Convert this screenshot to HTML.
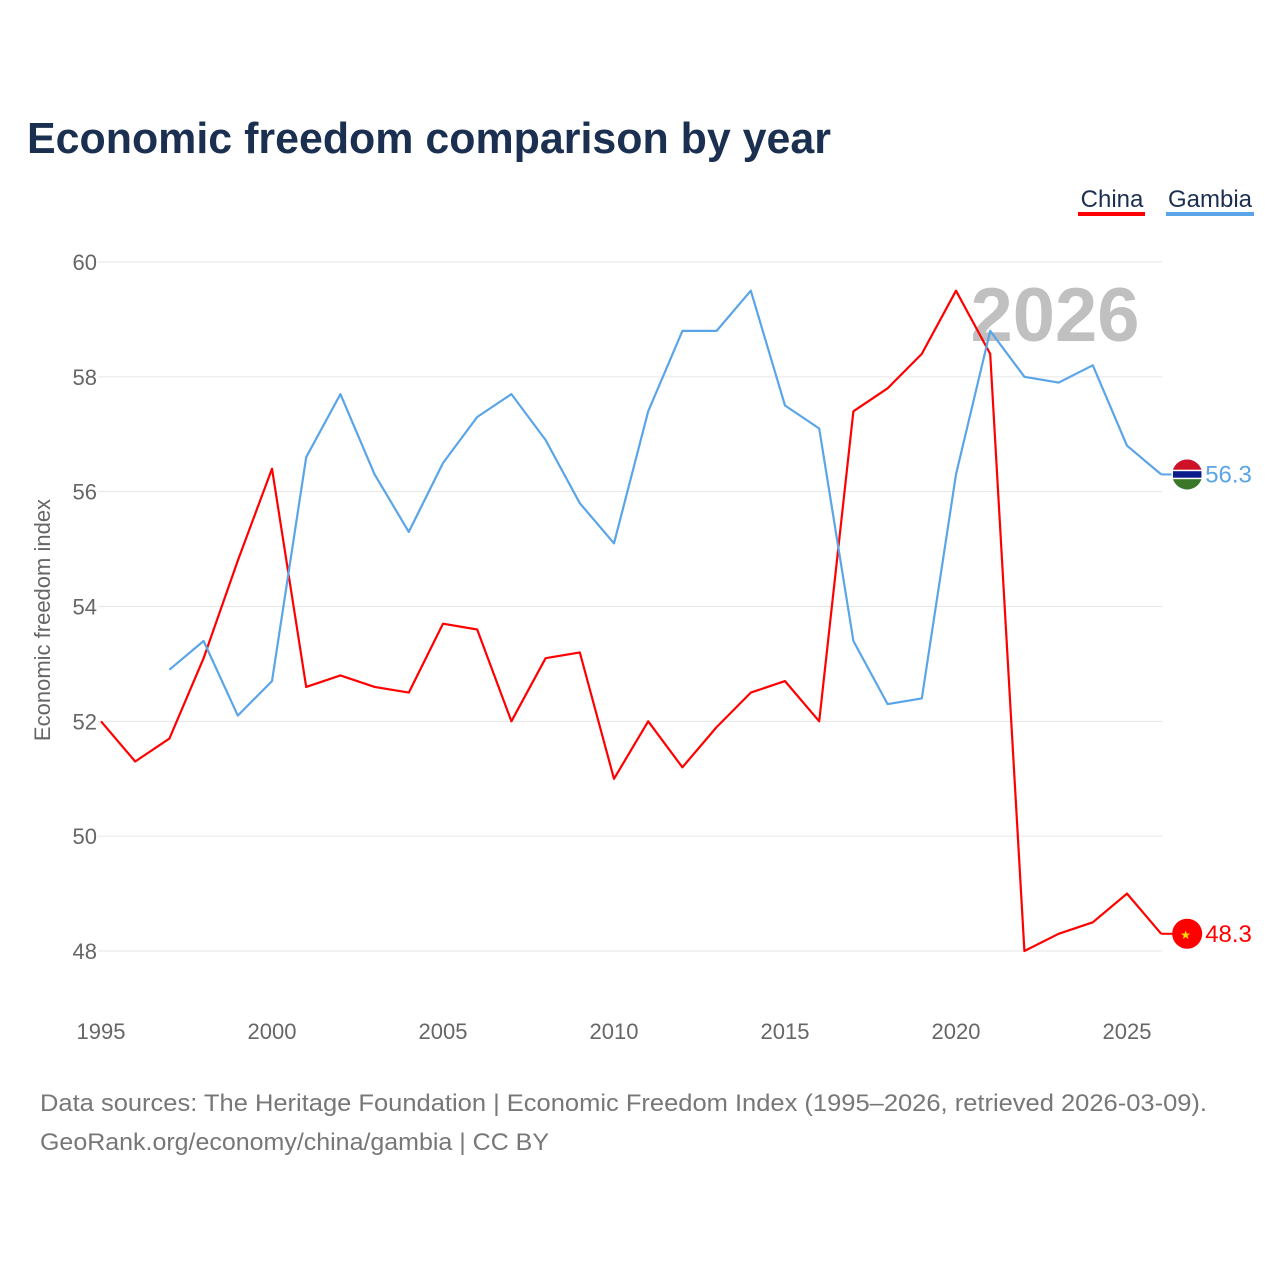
<!DOCTYPE html>
<html><head><meta charset="utf-8"><style>
body{margin:0;background:#fff;font-family:"Liberation Sans",sans-serif;}
</style></head><body>
<svg width="1280" height="1280" xmlns="http://www.w3.org/2000/svg" font-family="Liberation Sans, sans-serif">
<rect width="1280" height="1280" fill="#fff"/>
<text x="27" y="153" font-size="44" font-weight="bold" fill="#1b3050" textLength="804" lengthAdjust="spacingAndGlyphs">Economic freedom comparison by year</text>
<g>
<text x="1112" y="207" font-size="24" fill="#1b3050" text-anchor="middle">China</text>
<rect x="1078" y="212" width="67" height="4" fill="#ff0000"/>
<text x="1210" y="207" font-size="24" fill="#1b3050" text-anchor="middle">Gambia</text>
<rect x="1166" y="212" width="88" height="4" fill="#5aa5e8"/>
</g>
<g id="grid"></g>
<g id="yt"></g>
<g id="xt"></g>
<text x="1055" y="341" font-size="76" font-weight="bold" fill="#c0c0c0" text-anchor="middle">2026</text>
<text transform="translate(50,620) rotate(-90)" font-size="22" fill="#666" text-anchor="middle">Economic freedom index</text>
<g id="series"></g>
<text x="40" y="1111" font-size="24" fill="#777" textLength="1167" lengthAdjust="spacingAndGlyphs">Data sources: The Heritage Foundation | Economic Freedom Index (1995–2026, retrieved 2026-03-09).</text>
<text x="40" y="1150" font-size="24" fill="#777" textLength="509" lengthAdjust="spacingAndGlyphs">GeoRank.org/economy/china/gambia | CC BY</text>
</svg>
<script>
const years=[1995,1996,1997,1998,1999,2000,2001,2002,2003,2004,2005,2006,2007,2008,2009,2010,2011,2012,2013,2014,2015,2016,2017,2018,2019,2020,2021,2022,2023,2024,2025,2026];
const china=[52.0,51.3,51.7,53.1,54.8,56.4,52.6,52.8,52.6,52.5,53.7,53.6,52.0,53.1,53.2,51.0,52.0,51.2,51.9,52.5,52.7,52.0,57.4,57.8,58.4,59.5,58.4,48.0,48.3,48.5,49.0,48.3];
const gambia=[null,null,52.9,53.4,52.1,52.7,56.6,57.7,56.3,55.3,56.5,57.3,57.7,56.9,55.8,55.1,57.4,58.8,58.8,59.5,57.5,57.1,53.4,52.3,52.4,56.3,58.8,58.0,57.9,58.2,56.8,56.3];
const yTicks=[48,50,52,54,56,58,60];
const xTicks=[1995,2000,2005,2010,2015,2020,2025];
const NS="http://www.w3.org/2000/svg";
const x=v=>101+(v-1995)*(1127-101)/30;
const y=v=>951-(v-48)*(951-262)/12;
function mk(t,a,p){const e=document.createElementNS(NS,t);for(const k in a)e.setAttribute(k,a[k]);p.appendChild(e);return e;}
const grid=document.getElementById('grid'),yt=document.getElementById('yt'),xt=document.getElementById('xt'),ser=document.getElementById('series');
yTicks.forEach(v=>{
 const l=mk('line',{x1:98,x2:1162,y1:y(v),y2:y(v),stroke:'#e6e6e6','stroke-width':1},grid);
 
 
 const t=mk('text',{x:97,y:y(v)+8,'font-size':22,fill:'#666','text-anchor':'end'},yt);t.textContent=v;
 
 
});
xTicks.forEach(v=>{
 const t=mk('text',{x:x(v),y:1039,'font-size':22,fill:'#666','text-anchor':'middle'},xt);t.textContent=v;
 
 
});
function line(vals,color,name){
 let d='';vals.forEach((v,i)=>{if(v==null)return;d+=(d?'L':'M')+x(years[i]).toFixed(1)+','+y(v).toFixed(1);});
 const p=mk('path',{d:d,fill:'none',stroke:color,'stroke-width':2.2,'stroke-linejoin':'round'},ser);
 
 
 const last=vals[vals.length-1],lx=x(years[years.length-1]);
 mk('line',{x1:lx,x2:lx+12,y1:y(last),y2:y(last),stroke:color,'stroke-width':2},ser);
 const c=mk('circle',{cx:lx+26,cy:y(last),r:15,fill:color},ser);
 
 
 const t=mk('text',{x:lx+44,y:y(last)+8,'font-size':24,fill:color},ser);t.textContent=last.toFixed(1);
 
 
 return [lx+26,y(last)];
}
const [cx1,cy1]=line(china,'#ff0000','china');
mk('text',{x:cx1-7,y:cy1+5,'font-size':12,fill:'#ffde00'},ser).textContent='★';
const [gx,gy]=line(gambia,'#5aa5e8','gambia');
mk('path',{d:`M${gx-15},${gy} A15,15 0 0 1 ${gx+15},${gy} Z`,fill:'#ce1126'},ser);
mk('path',{d:`M${gx-15},${gy} A15,15 0 0 0 ${gx+15},${gy} Z`,fill:'#3a7728'},ser);
mk('rect',{x:gx-15,y:gy-4,width:30,height:8,fill:'#0c1c8c',stroke:'#fff','stroke-width':1.5},ser);
</script>
</body></html>
